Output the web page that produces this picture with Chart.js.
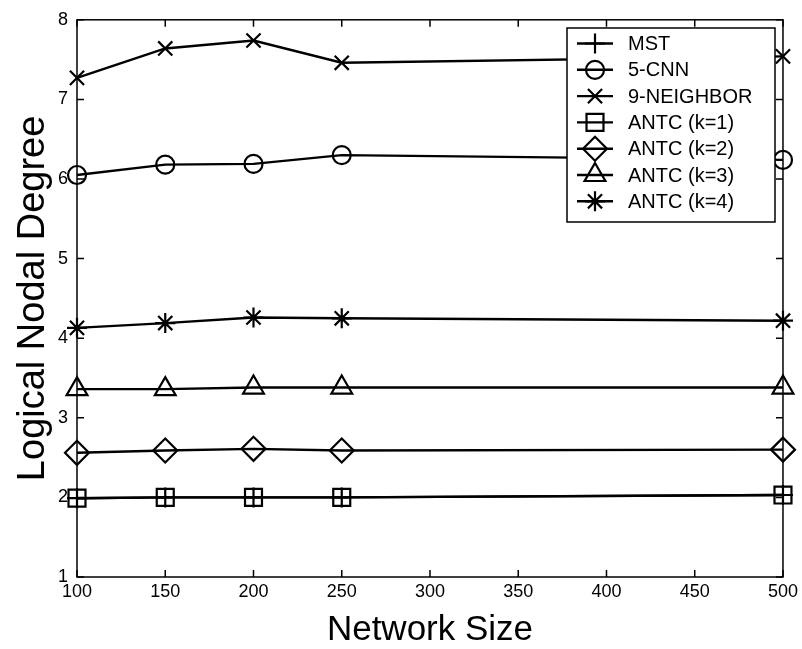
<!DOCTYPE html>
<html>
<head>
<meta charset="utf-8">
<script src="https://cdn.jsdelivr.net/npm/chart.js@4/dist/chart.umd.min.js"></script>
<style>
  html, body { margin: 0; padding: 0; background: #fff; }
  #wrap { width: 802px; height: 649px; }
</style>
</head>
<body>
<div id="wrap"><canvas id="myChart" width="802" height="649"></canvas></div>
<script>
// data
const networkSizes = [100, 150, 200, 250, 500];
const mst = [1.99, 2.0, 2.0, 2.0, 2.03];
const cnn5 = [6.05, 6.18, 6.19, 6.30, 6.24];
const neighbor9 = [7.27, 7.64, 7.74, 7.46, 7.54];
const antc1 = [1.99, 2.0, 2.0, 2.0, 2.03];
const antc2 = [2.56, 2.59, 2.61, 2.59, 2.60];
const antc3 = [3.36, 3.36, 3.38, 3.38, 3.38];
const antc4 = [4.13, 4.19, 4.26, 4.25, 4.22];

const seriesNames = ["MST", "5-CNN", "9-NEIGHBOR", "ANTC (k=1)", "ANTC (k=2)", "ANTC (k=3)", "ANTC (k=4)"];
const seriesValues = [mst, cnn5, neighbor9, antc1, antc2, antc3, antc4];
const markers = ["cross", "circle", "crossRot", "rect", "rectRot", "triangle", "star"];
const markerSizes = [10, 9, 10, 12, 12, 12, 10];

const yTicks = [1, 2, 3, 4, 5, 6, 7, 8];
const xTicks = [100, 150, 200, 250, 300, 350, 400, 450, 500];

const tickFont = { family: "'Liberation Sans', Arial, sans-serif", size: 18 };

// draw order: MST plus last so it sits on top of the squares
const datasets = seriesValues.map((vals, i) => ({
    label: seriesNames[i],
    data: vals.map((v, j) => ({ x: networkSizes[j], y: v })),
    borderColor: "#000",
    borderWidth: 2.4,
    pointStyle: markers[i],
    pointRadius: markerSizes[i],
    pointHoverRadius: markerSizes[i],
    pointBorderWidth: 2.2,
    pointBorderColor: "#000",
    pointBackgroundColor: "rgba(0,0,0,0)",
    tension: 0,
    clip: false,
    order: i === 0 ? -1 : i,
}));

function drawMarker(ctx, style, r, x, y) {
    ctx.save();
    ctx.strokeStyle = "#000";
    ctx.fillStyle = "rgba(0,0,0,0)";
    ctx.lineWidth = 2.2;
    Chart.helpers.drawPoint(ctx, { pointStyle: style, radius: r, rotation: 0, borderWidth: 2.2 }, x, y);
    ctx.restore();
}

// MATLAB style box with inward ticks, plus the legend
const boxPlugin = {
    id: "matlabBox",
    afterDraw(chart) {
        const ctx = chart.ctx;
        const a = chart.chartArea;
        const xs = chart.scales.x;
        const ys = chart.scales.y;
        ctx.save();
        ctx.strokeStyle = "#000";
        ctx.lineWidth = 1.5;
        ctx.strokeRect(a.left, a.top, a.right - a.left, a.bottom - a.top);
        ctx.beginPath();
        const tl = 7;
        yTicks.forEach((v) => {
            const py = ys.getPixelForValue(v);
            ctx.moveTo(a.left, py); ctx.lineTo(a.left + tl, py);
            ctx.moveTo(a.right, py); ctx.lineTo(a.right - tl, py);
        });
        xTicks.forEach((v) => {
            const px = xs.getPixelForValue(v);
            ctx.moveTo(px, a.bottom); ctx.lineTo(px, a.bottom - tl);
            ctx.moveTo(px, a.top); ctx.lineTo(px, a.top + tl);
        });
        ctx.stroke();

        // legend
        const lx = 567, ly = 28, lw = 208, lh = 194;
        ctx.fillStyle = "#fff";
        ctx.fillRect(lx, ly, lw, lh);
        ctx.lineWidth = 1.5;
        ctx.strokeRect(lx, ly, lw, lh);
        ctx.font = "20px 'Liberation Sans', Arial, sans-serif";
        ctx.textBaseline = "middle";
        ctx.textAlign = "left";
        seriesNames.forEach((name, i) => {
            const ry = 43.5 + i * 26.3;
            ctx.strokeStyle = "#000";
            ctx.lineWidth = 2.4;
            ctx.beginPath();
            ctx.moveTo(577, ry); ctx.lineTo(613, ry);
            ctx.stroke();
            drawMarker(ctx, markers[i], markerSizes[i], 595, ry);
            ctx.fillStyle = "#000";
            ctx.fillText(name, 628, ry + 1);
        });
        ctx.restore();
    },
};

const config = {
    type: "line",
    data: { datasets },
    options: {
        responsive: false,
        animation: false,
        layout: { padding: { top: 18, right: 16, left: 0, bottom: 0 } },
        plugins: {
            legend: { display: false },
            tooltip: { enabled: false },
        },
        scales: {
            x: {
                type: "linear",
                min: 100,
                max: 500,
                grid: { display: false, drawTicks: false },
                border: { display: false },
                ticks: {
                    stepSize: 50,
                    padding: 4,
                    color: "#000",
                    font: tickFont,
                    maxRotation: 0,
                },
                title: {
                    display: true,
                    text: "Network Size",
                    color: "#000",
                    font: { family: "'Liberation Sans', Arial, sans-serif", size: 35 },
                    padding: { top: 0, bottom: -2 },
                },
                afterFit: (s) => { s.height = 72; },
            },
            y: {
                min: 1,
                max: 8,
                grid: { display: false, drawTicks: false },
                border: { display: false },
                ticks: {
                    stepSize: 1,
                    padding: 9,
                    color: "#000",
                    font: tickFont,
                },
                title: {
                    display: true,
                    text: "Logical Nodal Degree",
                    color: "#000",
                    font: { family: "'Liberation Sans', Arial, sans-serif", size: 38 },
                    padding: { top: 11, bottom: 0 },
                },
                afterFit: (s) => { s.width = 77; },
            },
        },
    },
    plugins: [boxPlugin],
};

const ctx = document.getElementById("myChart").getContext("2d");
const lineChart = new Chart(ctx, config);
</script>
</body>
</html>
